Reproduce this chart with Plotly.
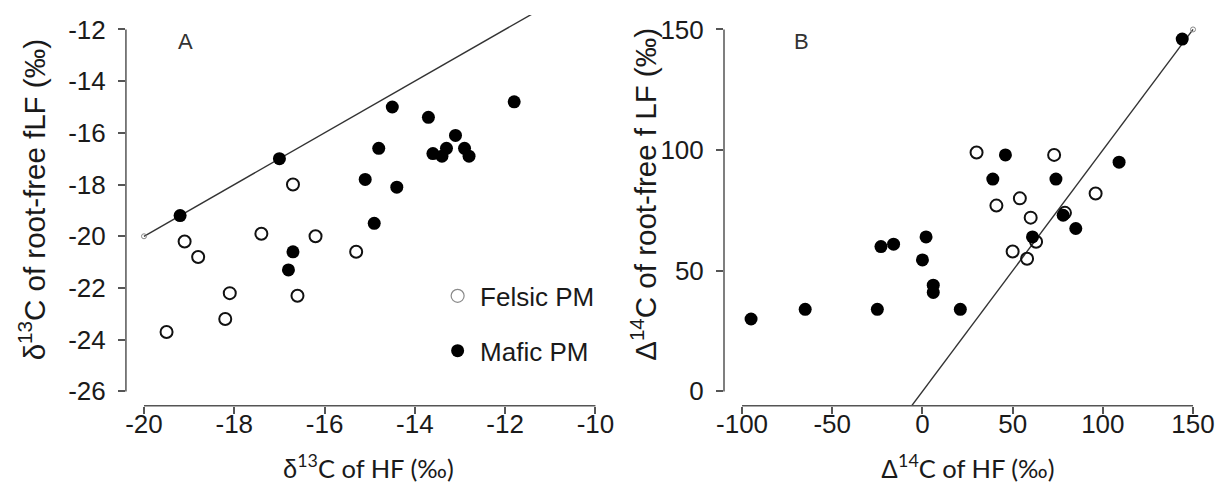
import plotly.graph_objects as go

# ---------------- data ----------------
# Panel A: delta13C
felsic_a_x = [-19.1, -18.8, -18.1, -18.2, -19.5, -17.4, -16.7, -16.6, -16.2, -15.3]
felsic_a_y = [-20.2, -20.8, -22.2, -23.2, -23.7, -19.9, -18.0, -22.3, -20.0, -20.6]
mafic_a_x = [-19.2, -17.0, -14.5, -11.8, -13.7, -14.8, -13.1, -13.6, -13.3, -13.4,
             -12.9, -12.8, -15.1, -14.4, -14.9, -16.7, -16.8]
mafic_a_y = [-19.2, -17.0, -15.0, -14.8, -15.4, -16.6, -16.1, -16.8, -16.6, -16.9,
             -16.6, -16.9, -17.8, -18.1, -19.5, -20.6, -21.3]

# Panel B: Delta14C
felsic_b_x = [30, 73, 54, 41, 96, 60, 79, 63, 50, 58]
felsic_b_y = [99, 98, 80, 77, 82, 72, 74, 62, 58, 55]
mafic_b_x = [-95, -65, -25, 21, -23, -16, 2, 0, 6, 6, 39, 46, 74, 109, 78, 85, 61, 144]
mafic_b_y = [30, 34, 34, 34, 60, 61, 64, 54.5, 44, 41, 88, 98, 88, 95, 73, 67.5, 64, 146]

# 1:1 reference lines (start point marked)
line_a = [-20, -10]
line_b = [-10, 150]
line_a_start = [-20]
line_b_start = [150]

# ticks
ticks_a_x = [-20, -18, -16, -14, -12, -10]
ticks_a_y = [-26, -24, -22, -20, -18, -16, -14, -12]
ticks_b_x = [-100, -50, 0, 50, 100, 150]
ticks_b_y = [0, 50, 100, 150]

W, H = 1223, 487
TICKFONT = dict(family="Liberation Sans, Arial", size=26, color="#1a1a1a")
AXCOL = "#555555"


def pad(t):
    lo, hi = min(t), max(t)
    d = (hi - lo) * 0.04
    return [lo - d, hi + d]


def labels(t):
    return [str(v) for v in t]


fig = go.Figure()

open_marker = dict(symbol="circle-open", size=12, color="#111111", line=dict(width=2, color="#111111"))
fill_marker = dict(symbol="circle", size=13, color="#000000")
start_marker = dict(symbol="circle-open", size=5, color="#888888", line=dict(width=1, color="#888888"))
line_style = dict(color="#333333", width=1.4)

# Panel A
fig.add_trace(go.Scatter(x=line_a, y=line_a, mode="lines", line=line_style, showlegend=False,
                         xaxis="x", yaxis="y", hoverinfo="skip"))
fig.add_trace(go.Scatter(x=line_a_start, y=line_a_start, mode="markers", marker=start_marker,
                         showlegend=False, xaxis="x", yaxis="y"))
fig.add_trace(go.Scatter(x=felsic_a_x, y=felsic_a_y, mode="markers", marker=open_marker,
                         showlegend=False, xaxis="x", yaxis="y", name="Felsic PM"))
fig.add_trace(go.Scatter(x=mafic_a_x, y=mafic_a_y, mode="markers", marker=fill_marker,
                         showlegend=False, xaxis="x", yaxis="y", name="Mafic PM"))

# Panel B
fig.add_trace(go.Scatter(x=line_b, y=line_b, mode="lines", line=line_style, showlegend=False,
                         xaxis="x2", yaxis="y2", hoverinfo="skip"))
fig.add_trace(go.Scatter(x=line_b_start, y=line_b_start, mode="markers", marker=start_marker,
                         showlegend=False, xaxis="x2", yaxis="y2"))
fig.add_trace(go.Scatter(x=felsic_b_x, y=felsic_b_y, mode="markers", marker=open_marker,
                         showlegend=False, xaxis="x2", yaxis="y2", name="Felsic PM"))
fig.add_trace(go.Scatter(x=mafic_b_x, y=mafic_b_y, mode="markers", marker=fill_marker,
                         showlegend=False, xaxis="x2", yaxis="y2", name="Mafic PM"))

# Legend entries
fig.add_trace(go.Scatter(x=[None], y=[None], mode="markers", name="Felsic PM", legendgroup="f",
                         marker=dict(symbol="circle-open", size=13, color="#8a8a8a",
                                     line=dict(width=1.2, color="#8a8a8a")),
                         xaxis="x", yaxis="y"))
fig.add_trace(go.Scatter(x=[None], y=[None], mode="markers", name="Mafic PM", legendgroup="m",
                         marker=dict(symbol="circle", size=13, color="#000000"),
                         xaxis="x", yaxis="y"))

ydom = [1 - 406.7 / H, 1 - 15 / H]
common_ax = dict(showgrid=False, zeroline=False, showline=False, ticks="outside", ticklen=7,
                 tickwidth=1.5, tickcolor=AXCOL, tickfont=TICKFONT)
x_ax = dict(common_ax, ticklabelstandoff=-12)
y_ax = dict(common_ax, ticklabelstandoff=7)

fig.update_layout(
    width=W, height=H,
    margin=dict(l=0, r=0, t=0, b=0),
    paper_bgcolor="white", plot_bgcolor="white",
    xaxis=dict(domain=[119 / W, 611 / W], range=pad(ticks_a_x), tickvals=ticks_a_x,
               ticktext=labels(ticks_a_x), anchor="y", **x_ax),
    yaxis=dict(domain=ydom, range=pad(ticks_a_y), tickvals=ticks_a_y, ticktext=labels(ticks_a_y),
               anchor="x", **y_ax),
    xaxis2=dict(domain=[722.5 / W, 1214 / W], range=pad(ticks_b_x), tickvals=ticks_b_x,
                ticktext=labels(ticks_b_x), anchor="y2", **x_ax),
    yaxis2=dict(domain=ydom, range=pad(ticks_b_y), tickvals=ticks_b_y, ticktext=labels(ticks_b_y),
                anchor="x2", **y_ax),
    legend=dict(x=431 / W, y=1 - 273 / H, xanchor="left", yanchor="top",
                font=dict(family="Liberation Sans, Arial", size=26, color="#1a1a1a"),
                bgcolor="rgba(0,0,0,0)", tracegroupgap=18, traceorder="grouped",
                itemsizing="trace", itemwidth=35),
    showlegend=True,
)

# R-style detached axis lines spanning the tick range
shapes = []
for xr, yr, tx, ty in [("x", "y", ticks_a_x, ticks_a_y), ("x2", "y2", ticks_b_x, ticks_b_y)]:
    shapes.append(dict(type="line", xref=xr, yref=yr + " domain", x0=min(tx), x1=max(tx), y0=0, y1=0,
                       line=dict(color=AXCOL, width=1.5)))
    shapes.append(dict(type="line", xref=xr + " domain", yref=yr, x0=0, x1=0, y0=min(ty), y1=max(ty),
                       line=dict(color=AXCOL, width=1.5)))
fig.update_layout(shapes=shapes)

GREEK = "<span style='font-family:Liberation Sans'>{}</span>"
TITLE_X = dict(family="Lato, Carlito, Liberation Sans", size=25.5, color="#1a1a1a")
TITLE_Y = dict(family="Liberation Sans, Arial", size=29.5, color="#1a1a1a")
PANEL = dict(family="Liberation Sans, Arial", size=22, color="#333333")

annotations = [
    dict(text=GREEK.format("δ") + "<sup>13</sup>C of HF (‰)", x=364 / W, y=1 - 467 / H,
         xref="paper", yref="paper", showarrow=False, font=TITLE_X, xanchor="center", yanchor="middle"),
    dict(text=GREEK.format("Δ") + "<sup>14</sup>C of HF (‰)", x=969 / W, y=1 - 467 / H,
         xref="paper", yref="paper", showarrow=False, font=TITLE_X, xanchor="center", yanchor="middle"),
    dict(text="δ<sup>13</sup>C of root-free fLF (‰)", x=24 / W, y=1 - 200 / H, xref="paper", yref="paper",
         showarrow=False, font=TITLE_Y, textangle=-90, xanchor="center", yanchor="middle"),
    dict(text="Δ<sup>14</sup>C of root-free f LF (‰)", x=641 / W, y=1 - 195 / H, xref="paper", yref="paper",
         showarrow=False, font=TITLE_Y, textangle=-90, xanchor="center", yanchor="middle"),
    dict(text="A", x=179 / W, y=1 - 42 / H, xref="paper", yref="paper", showarrow=False, font=PANEL,
         xanchor="center", yanchor="middle"),
    dict(text="B", x=801 / W, y=1 - 42 / H, xref="paper", yref="paper", showarrow=False, font=PANEL,
         xanchor="center", yanchor="middle"),
]
fig.update_layout(annotations=annotations)

fig.write_html("out.html", config={"displayModeBar": False},
               post_script="document.body.style.margin='0';document.body.style.overflow='hidden';")
